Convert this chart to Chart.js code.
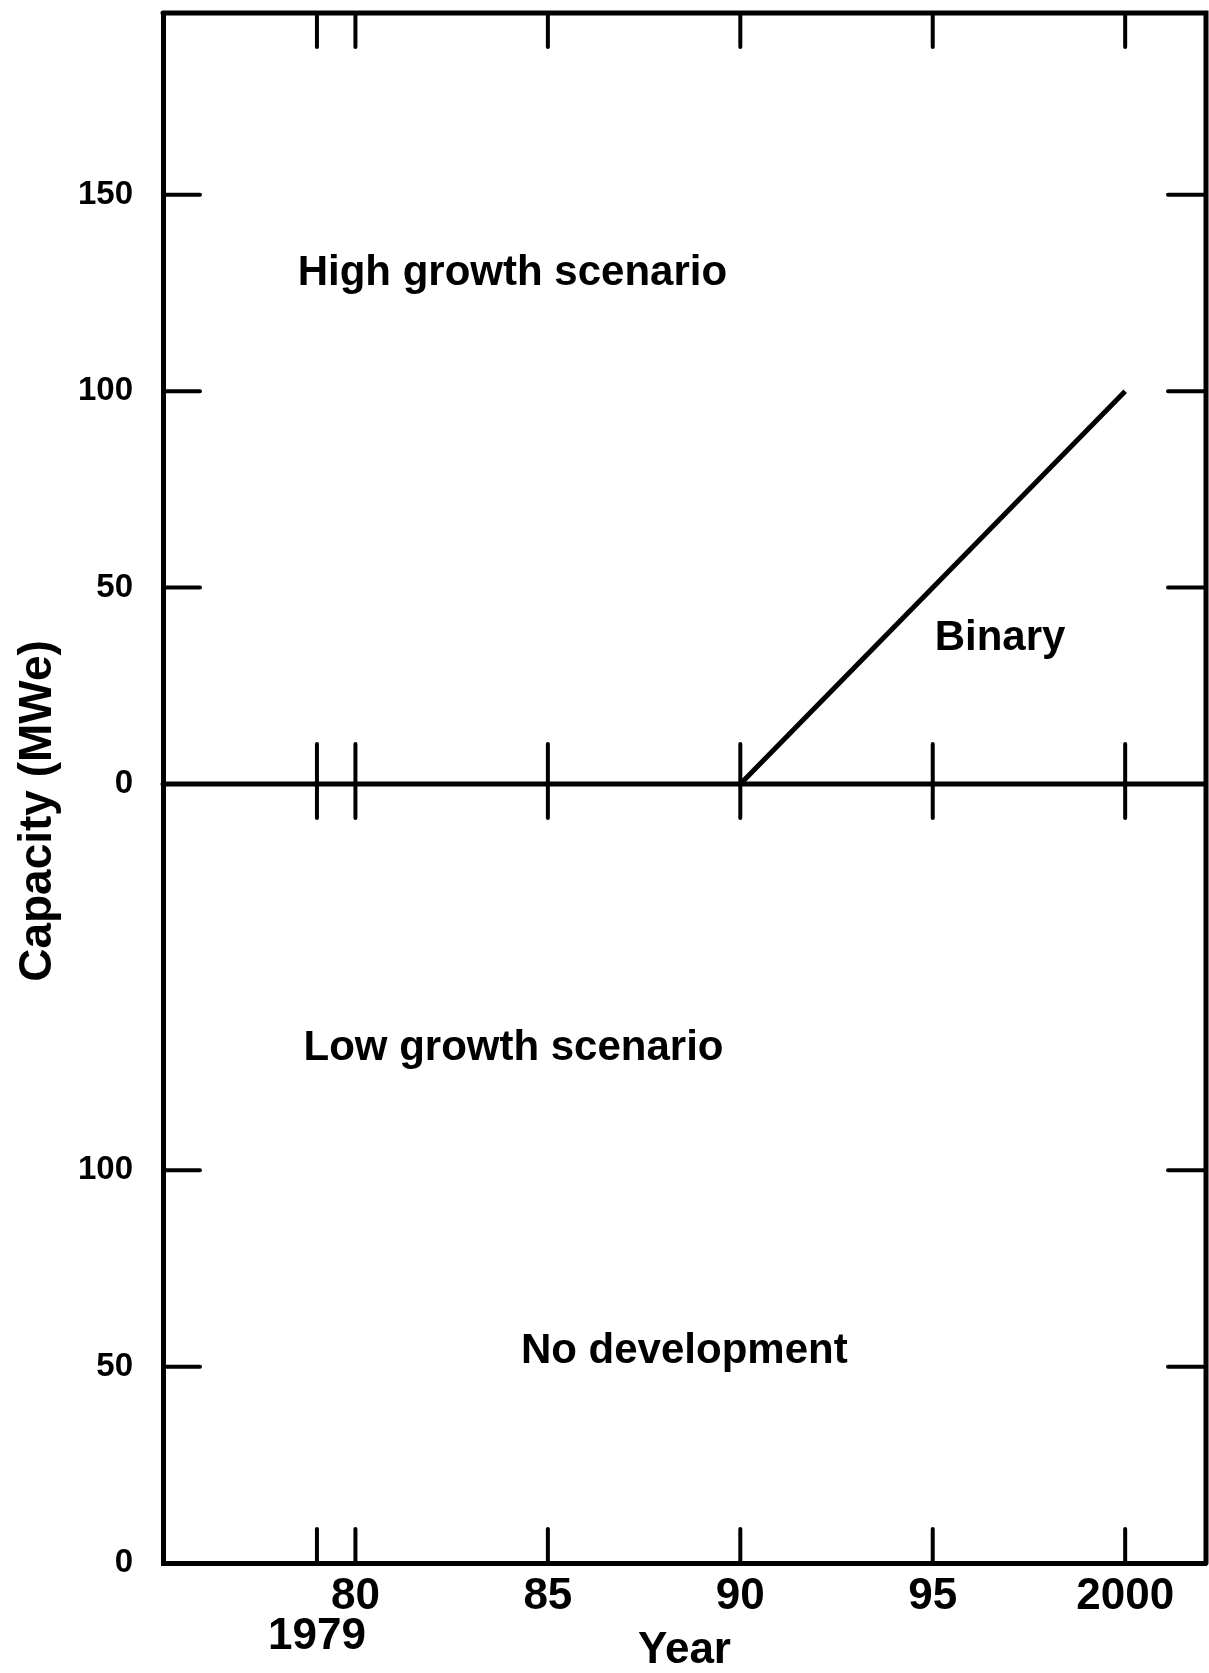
<!DOCTYPE html>
<html lang="en">
<head>
<meta charset="UTF-8">
<title>Capacity scenarios</title>
<style>
  html, body { margin: 0; padding: 0; background: #fff; }
  #wrap { width: 1209px; height: 1673px; position: relative; }
</style>
</head>
<body>
<div id="wrap"><canvas id="capacityChart"></canvas></div>

<script src="https://cdn.jsdelivr.net/npm/chart.js"></script>
<script>
// values
const binaryYears = [1990, 2000];
const binaryMWe = [0, 100];

const yearTicks = [1979, 1980, 1985, 1990, 1995, 2000];
const yearLabels = ['1979', '80', '85', '90', '95', '2000'];
const highTicks = [0, 50, 100, 150];
const lowTicks = [0, 50, 100];
const highSideTicks = [50, 100, 150];
const lowSideTicks = [50, 100];

// text written inside the panels (year, MWe, panel)
const noteText = ['High growth scenario', 'Binary', 'Low growth scenario', 'No development'];
const noteYear = [1978.5, 1995.05, 1978.65, 1984.3];
const noteMWe = [130, 37, 131, 54];
const notePanel = ['yHigh', 'yHigh', 'yLow', 'yLow'];

const FONT = "'Liberation Sans', Arial, sans-serif";

// frame, inward ticks, zero line and the written labels
const framePlugin = {
    id: 'frame',
    afterDraw(chart) {
        const { ctx, chartArea: a, scales } = chart;
        const x = scales.x;
        const mid = scales.yHigh.getPixelForValue(0);
        ctx.save();
        ctx.strokeStyle = '#000';
        ctx.lineCap = 'round';

        ctx.lineWidth = 5;
        ctx.beginPath();
        ctx.moveTo(a.left, a.top);
        ctx.lineTo(a.right, a.top);
        ctx.lineTo(a.right, a.bottom);
        ctx.moveTo(a.left, mid);
        ctx.lineTo(a.right, mid);
        ctx.stroke();

        ctx.lineWidth = 4;
        ctx.beginPath();
        yearTicks.forEach(v => {
            const px = x.getPixelForValue(v);
            ctx.moveTo(px, a.top); ctx.lineTo(px, a.top + 34);
            ctx.moveTo(px, mid - 40); ctx.lineTo(px, mid + 34);
            ctx.moveTo(px, a.bottom); ctx.lineTo(px, a.bottom - 34);
        });
        [[scales.yHigh, highSideTicks], [scales.yLow, lowSideTicks]].forEach(([s, list]) => {
            list.forEach(v => {
                const py = s.getPixelForValue(v);
                ctx.moveTo(a.left, py); ctx.lineTo(a.left + 37, py);
                ctx.moveTo(a.right, py); ctx.lineTo(a.right - 38, py);
            });
        });
        ctx.stroke();

        ctx.fillStyle = '#000';
        ctx.font = 'bold 42px ' + FONT;
        ctx.textAlign = 'left';
        ctx.textBaseline = 'middle';
        noteText.forEach((t, i) => {
            ctx.fillText(t, x.getPixelForValue(noteYear[i]), scales[notePanel[i]].getPixelForValue(noteMWe[i]));
        });

        ctx.font = 'bold 46px ' + FONT;
        ctx.textAlign = 'center';
        ctx.translate(38, (a.top + a.bottom) / 2 + 23);
        ctx.rotate(-Math.PI / 2);
        ctx.fillText('Capacity (MWe)', 0, 0);
        ctx.restore();
    }
};

const axisBorder = { display: true, color: '#000', width: 5 };

// no extra room for half labels at the axis ends
function noPad(s) {
    s.paddingTop = 0;
    s.paddingBottom = 0;
    s.paddingLeft = 0;
    s.paddingRight = 0;
}

new Chart(document.getElementById('capacityChart'), {
    type: 'line',
    data: {
        datasets: [{
            label: 'Binary',
            data: binaryYears.map((yr, i) => ({ x: yr, y: binaryMWe[i] })),
            yAxisID: 'yHigh',
            borderColor: '#000',
            borderWidth: 5,
            pointRadius: 0,
            tension: 0
        }]
    },
    options: {
        responsive: true,
        maintainAspectRatio: false,
        animation: false,
        devicePixelRatio: 1,
        layout: { padding: { top: 13, right: 3, left: 0, bottom: 0 } },
        plugins: { legend: { display: false }, tooltip: { enabled: false } },
        scales: {
            x: {
                type: 'linear',
                position: 'bottom',
                min: 1975,
                max: 2002.1,
                grid: { display: false, drawTicks: false },
                border: axisBorder,
                afterBuildTicks: s => { s.ticks = yearTicks.map(v => ({ value: v })); },
                afterFit: s => { s.height = 110; noPad(s); },
                ticks: {
                    autoSkip: false,
                    maxRotation: 0,
                    padding: 14,
                    color: '#000',
                    font: { family: FONT, weight: 'bold', size: 44, lineHeight: 0.9 },
                    callback: v => {
                        const lab = yearLabels[yearTicks.indexOf(v)];
                        return v === 1979 ? ['', lab] : lab;
                    }
                },
                title: {
                    display: true,
                    text: 'Year',
                    color: '#000',
                    padding: 0,
                    font: { family: FONT, weight: 'bold', size: 44, lineHeight: 1 }
                }
            },
            yHigh: {
                type: 'linear',
                position: 'left',
                stack: 'capacity',
                stackWeight: 771,
                weight: 1,
                min: 0,
                max: 196.3,
                grid: { display: false, drawTicks: false },
                border: axisBorder,
                afterBuildTicks: s => { s.ticks = highTicks.map(v => ({ value: v })); },
                afterFit: s => { s.width = 163; noPad(s); },
                ticks: { padding: 30, color: '#000', font: { family: FONT, weight: 'bold', size: 33 } }
            },
            yLow: {
                type: 'linear',
                position: 'left',
                stack: 'capacity',
                stackWeight: 779,
                weight: 0,
                min: 0,
                max: 198.4,
                grid: { display: false, drawTicks: false },
                border: axisBorder,
                afterBuildTicks: s => { s.ticks = lowTicks.map(v => ({ value: v })); },
                afterFit: s => { s.width = 163; noPad(s); },
                ticks: { padding: 30, color: '#000', font: { family: FONT, weight: 'bold', size: 33 } }
            }
        }
    },
    plugins: [framePlugin]
});
</script>
</body>
</html>
